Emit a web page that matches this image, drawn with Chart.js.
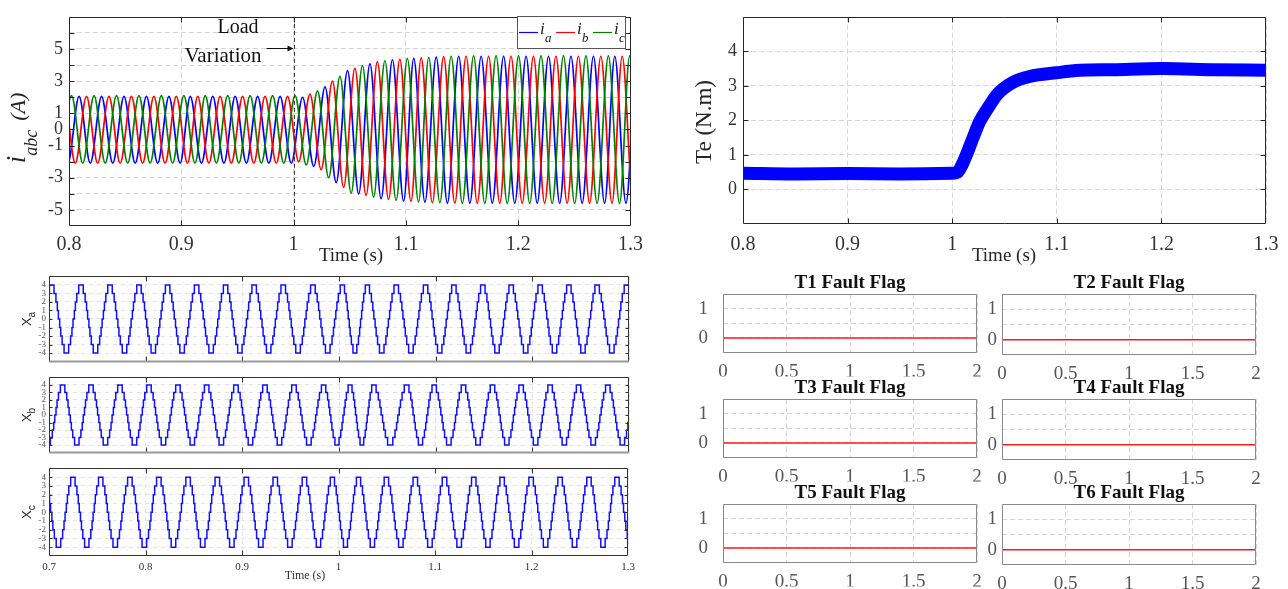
<!DOCTYPE html>
<html>
<head>
<meta charset="utf-8">
<title>Load variation - currents, torque, levels and fault flags</title>
<script src="https://cdn.jsdelivr.net/npm/chart.js@4.4.1/dist/chart.umd.min.js"></script>
<style>
  body { margin: 0; width: 1288px; height: 589px; background: #fff; position: relative; overflow: hidden; }
  canvas { position: absolute; }
</style>
</head>
<body>
<script>
// ---------- values ----------

// phase currents: time of each positive peak of i_a, the other phases follow by a third of a cycle
const iaPeakTime = [0.789, 0.809, 0.829, 0.849, 0.869, 0.889, 0.908, 0.928, 0.948, 0.968, 0.988,
  1.008, 1.028, 1.048, 1.068, 1.088, 1.107, 1.127, 1.147, 1.167, 1.187, 1.207, 1.227, 1.247, 1.267, 1.286, 1.306];
const phaseShift = [0, 0.0066, 0.0133];
const halfCycle = 0.00995;
// peak / following trough of every cycle (A)
const iaPeak = [2.05, 2.05, 2.05, 2.05, 2.05, 2.05, 2.05, 2.05, 2.05, 2.05, 2.05,
  2.0, 2.65, 3.65, 4.08, 4.33, 4.42, 4.5, 4.55, 4.55, 4.55, 4.55, 4.55, 4.55, 4.55, 4.55, 4.55];
const iaTrough = [-2.1, -2.1, -2.1, -2.1, -2.1, -2.1, -2.1, -2.1, -2.1, -2.1, -2.1,
  -2.3, -3.3, -4.0, -4.3, -4.45, -4.52, -4.58, -4.58, -4.58, -4.58, -4.58, -4.58, -4.58, -4.58, -4.58, -4.58];
const ibPeak = [2.05, 2.05, 2.05, 2.05, 2.05, 2.05, 2.05, 2.05, 2.05, 2.05, 2.05,
  2.2, 3.0, 3.8, 4.2, 4.36, 4.45, 4.52, 4.55, 4.55, 4.55, 4.55, 4.55, 4.55, 4.55, 4.55, 4.55];
const ibTrough = [-2.1, -2.1, -2.1, -2.1, -2.1, -2.1, -2.1, -2.1, -2.1, -2.1,
  -2.0, -2.5, -3.6, -4.1, -4.35, -4.47, -4.55, -4.58, -4.58, -4.58, -4.58, -4.58, -4.58, -4.58, -4.58, -4.58, -4.58];
const icPeak = [2.1, 2.1, 2.1, 2.1, 2.1, 2.1, 2.1, 2.1, 2.1, 2.1, 2.1,
  2.4, 3.3, 3.97, 4.27, 4.4, 4.47, 4.55, 4.57, 4.57, 4.57, 4.57, 4.57, 4.57, 4.57, 4.57, 4.57];
const icTrough = [-2.1, -2.1, -2.1, -2.1, -2.1, -2.1, -2.1, -2.1, -2.1, -2.1,
  -2.2, -3.0, -3.95, -4.2, -4.4, -4.5, -4.55, -4.6, -4.6, -4.6, -4.6, -4.6, -4.6, -4.6, -4.6, -4.6, -4.6];
const phaseNames = ['a', 'b', 'c'];

// electromagnetic torque (N.m)
const teTime = [0.8, 0.85, 0.9, 0.95, 1.0, 1.005, 1.01, 1.02, 1.026, 1.034, 1.043, 1.058, 1.074, 1.1, 1.122, 1.154, 1.2, 1.25, 1.3];
const teValue = [0.47, 0.45, 0.46, 0.45, 0.47, 0.5, 0.75, 1.5, 1.95, 2.35, 2.75, 3.1, 3.27, 3.38, 3.45, 3.47, 3.5, 3.47, 3.45];

// inverter level signals: one cycle of the 9-level staircase (fraction of a peak-to-peak interval, new level)
const stepFrac = [0.078, 0.144, 0.192, 0.228, 0.272, 0.308, 0.356, 0.422, 0.578, 0.644, 0.692, 0.728, 0.772, 0.808, 0.856, 0.922];
const stepLevel = [3, 2, 1, 0, -1, -2, -3, -4, -3, -2, -1, 0, 1, 2, 3, 4];
// centre of every +4 plateau (s)
const xaPeaks = [0.6728, 0.7028, 0.7331, 0.7631, 0.7931, 0.8227, 0.8527, 0.8827, 0.9122, 0.9423, 0.9730,
  1.0037, 1.0292, 1.0592, 1.0896, 1.1188, 1.1488, 1.1781, 1.2081, 1.2378, 1.2670, 1.2974, 1.3274];
const xbPeaks = [0.6841, 0.7141, 0.7434, 0.7734, 0.8034, 0.8334, 0.8631, 0.8934, 0.9234, 0.9534, 0.9842,
  1.0116, 1.0357, 1.0702, 1.0984, 1.1288, 1.1588, 1.1884, 1.2184, 1.2478, 1.2781, 1.3081];
const xcPeaks = [0.6948, 0.7248, 0.7535, 0.7838, 0.8138, 0.8441, 0.8744, 0.9044, 0.9344, 0.9647,
  0.9937, 1.0206, 1.0495, 1.0795, 1.1098, 1.1401, 1.1694, 1.1995, 1.2295, 1.2595, 1.2884, 1.3184];
const levelNames = ['a', 'b', 'c'];

// switch fault flags (all stay at 0)
const flagTime = [0, 2];
const flagValues = [[0, 0], [0, 0], [0, 0], [0, 0], [0, 0], [0, 0]];
const flagTitles = ['T1 Fault Flag', 'T2 Fault Flag', 'T3 Fault Flag', 'T4 Fault Flag', 'T5 Fault Flag', 'T6 Fault Flag'];

// ---------- helpers ----------
const SERIF = "'Liberation Serif', 'Times New Roman', serif";
Chart.defaults.font.family = SERIF;
Chart.defaults.color = '#333';

function wave(shift, peaks, troughs) {
  const pts = [{ x: iaPeakTime[0] + shift - halfCycle, y: troughs[0] }];
  iaPeakTime.forEach((t, k) => {
    pts.push({ x: t + shift, y: peaks[k] });
    pts.push({ x: t + shift + halfCycle, y: troughs[k] });
  });
  return pts;
}

function staircase(peaks) {
  const pts = [{ x: peaks[0], y: 4 }];
  for (let i = 0; i + 1 < peaks.length; i++) {
    const d = peaks[i + 1] - peaks[i];
    stepFrac.forEach((f, j) => pts.push({ x: peaks[i] + f * d, y: stepLevel[j] }));
  }
  return pts;
}

const num = v => String(+v.toFixed(3));

function axis(min, max, step, o) {
  return {
    min, max,
    ticks: {
      stepSize: step, autoSkip: false, maxRotation: 0, minRotation: 0,
      padding: o.pad, color: o.color || '#333', font: { size: o.size },
      display: o.show !== false, callback: o.cb || num
    },
    grid: { color: o.grid || '#d6d6d6', drawTicks: false, lineWidth: 1 },
    border: { display: false, dash: o.dash || [5, 3] }
  };
}

function drawFrame(chart, o) {
  const { ctx, chartArea: a, scales: { x, y } } = chart;
  const L = Math.round(a.left) + 0.5, R = Math.round(a.right) - 0.5;
  const T = Math.round(a.top) + 0.5, B = Math.round(a.bottom) - 0.5;
  ctx.save();
  ctx.lineWidth = 1;
  ctx.strokeStyle = o.color;
  ctx.beginPath();
  if (o.xTick) {
    x.ticks.forEach(t => {
      const p = Math.round(x.getPixelForValue(t.value)) + 0.5;
      if (p < L + 2 || p > R - 2) return;
      ctx.moveTo(p, B); ctx.lineTo(p, B - o.xTick);
      ctx.moveTo(p, T); ctx.lineTo(p, T + o.xTick);
    });
  }
  if (o.yTick) {
    y.ticks.forEach(t => {
      const p = Math.round(y.getPixelForValue(t.value)) + 0.5;
      if (p < T + 2 || p > B - 2) return;
      ctx.moveTo(L, p); ctx.lineTo(L + o.yTick, p);
      ctx.moveTo(R, p); ctx.lineTo(R - o.yTick, p);
    });
  }
  ctx.moveTo(L, B); ctx.lineTo(L, T); ctx.lineTo(R, T); ctx.lineTo(R, B);
  if (!o.bottomColor) ctx.lineTo(L, B);
  ctx.stroke();
  if (o.bottomColor) {
    ctx.beginPath();
    ctx.strokeStyle = o.bottomColor; ctx.lineWidth = 2;
    ctx.moveTo(L - 0.5, B); ctx.lineTo(R + 0.5, B);
    ctx.stroke();
  }
  ctx.restore();
}

// rotated label made of pieces (text, font, baseline offset to the right of the page)
function vLabel(ctx, cx, cy, baseX, parts) {
  ctx.save();
  ctx.translate(0, cy);
  ctx.rotate(-Math.PI / 2);
  let total = 0;
  parts.forEach(p => { ctx.font = p.font; p.w = ctx.measureText(p.t).width; total += p.w + (p.gap || 0); });
  let pos = -total / 2;
  ctx.fillStyle = '#262626';
  ctx.textBaseline = 'alphabetic';
  ctx.textAlign = 'left';
  parts.forEach(p => {
    ctx.font = p.font;
    ctx.fillText(p.t, pos, baseX + (p.dy || 0));
    pos += p.w + (p.gap || 0);
  });
  ctx.restore();
}

function text(ctx, s, x, y, font, color, align) {
  ctx.save();
  ctx.font = font;
  ctx.fillStyle = color || '#262626';
  ctx.textAlign = align || 'center';
  ctx.textBaseline = 'middle';
  ctx.fillText(s, x, y);
  ctx.restore();
}

function panel(box, pad, cfg) {
  const w = box.r - box.l + pad.l + pad.r, h = box.b - box.t + pad.t + pad.b;
  const cv = document.createElement('canvas');
  cv.width = w; cv.height = h;
  Object.assign(cv.style, { left: (box.l - pad.l) + 'px', top: (box.t - pad.t) + 'px', width: w + 'px', height: h + 'px' });
  document.body.appendChild(cv);
  return new Chart(cv, {
    type: 'line',
    data: { datasets: cfg.datasets },
    options: {
      responsive: false,
      animation: false,
      events: [],
      parsing: false,
      layout: { autoPadding: false, padding: { left: 0, top: pad.t, right: pad.r, bottom: 0 } },
      plugins: { legend: { display: false }, tooltip: { enabled: false } },
      elements: { point: { radius: 0 } },
      scales: {
        x: Object.assign({ type: 'linear', afterFit: s => { s.height = pad.b; } }, cfg.x),
        y: Object.assign({ type: 'linear', afterFit: s => { s.width = pad.l; } }, cfg.y)
      }
    },
    plugins: [{
      id: 'deco',
      afterDatasetsDraw: ch => { drawFrame(ch, cfg.frame); if (cfg.draw) cfg.draw(ch, ch.ctx); }
    }]
  });
}

// ---------- 1. phase currents ----------
const iColors = ['#0000ff', '#ff0000', '#008000'];
const iSeries = [wave(phaseShift[0], iaPeak, iaTrough), wave(phaseShift[1], ibPeak, ibTrough), wave(phaseShift[2], icPeak, icTrough)];
const iLabeled = [5, 3, 1, 0, -1, -3, -5];

panel({ l: 69, t: 11, r: 633, b: 226 }, { l: 69, t: 11, r: 17, b: 44 }, {
  datasets: iSeries.map((d, i) => ({
    label: 'i_' + phaseNames[i], data: d, borderColor: iColors[i], borderWidth: 1.7,
    cubicInterpolationMode: 'monotone', clip: 0, order: 2 - i
  })),
  x: axis(0.8, 1.3, 0.1, { pad: 7, size: 20 }),
  y: axis(-6, 7, 1, {
    pad: 6, size: 18,
    cb: v => (v === 7 || v === -6) ? null : (iLabeled.includes(v) ? String(v) : '')
  }),
  frame: { color: '#262626', xTick: 5, yTick: 5 },
  draw: (ch, ctx) => {
    const { x, y, } = ch.scales, a = ch.chartArea;
    const px = Math.round(x.getPixelForValue(1.0)) + 0.5;
    ctx.save();
    // load step marker
    ctx.strokeStyle = '#333'; ctx.lineWidth = 1; ctx.setLineDash([4, 3]);
    ctx.beginPath(); ctx.moveTo(px, a.top); ctx.lineTo(px, a.bottom); ctx.stroke();
    ctx.setLineDash([]);
    const ay = Math.round(y.getPixelForValue(5)) - 0.5;
    ctx.strokeStyle = '#111';
    ctx.beginPath(); ctx.moveTo(px - 28, ay); ctx.lineTo(px - 2, ay); ctx.stroke();
    ctx.fillStyle = '#111';
    ctx.beginPath(); ctx.moveTo(px - 1, ay); ctx.lineTo(px - 7, ay - 3); ctx.lineTo(px - 7, ay + 3); ctx.closePath(); ctx.fill();
    ctx.restore();
    text(ctx, 'Load', 238, 28, '20px ' + SERIF, '#111');
    text(ctx, 'Variation', 223, 56, '21px ' + SERIF, '#111');
    // legend
    ctx.save();
    ctx.fillStyle = '#fff'; ctx.fillRect(517, 16, 109, 33);
    ctx.strokeStyle = '#555'; ctx.lineWidth = 1; ctx.strokeRect(517.5, 16.5, 108, 32);
    [519, 556, 593].forEach((x0, i) => {
      ctx.strokeStyle = iColors[i]; ctx.lineWidth = 1.2;
      ctx.beginPath(); ctx.moveTo(x0, 32.5); ctx.lineTo(x0 + 19, 32.5); ctx.stroke();
      ctx.fillStyle = '#222';
      ctx.font = 'italic 17px ' + SERIF; ctx.fillText('i', x0 + 21, 34);
      ctx.font = 'italic 13px ' + SERIF; ctx.fillText(phaseNames[i], x0 + 26, 42);
    });
    ctx.restore();
    // axis titles
    vLabel(ctx, 0, 128, 25, [
      { t: 'i', font: 'italic 27px ' + SERIF },
      { t: 'abc', font: 'italic 18px ' + SERIF, dy: 12, gap: 9 },
      { t: '(A)', font: 'italic 22px ' + SERIF }
    ]);
    text(ctx, 'Time (s)', 351, 256, '19px ' + SERIF, '#262626');
  }
});

// ---------- 2. torque ----------
panel({ l: 743, t: 13, r: 1266, b: 224 }, { l: 63, t: 13, r: 22, b: 46 }, {
  datasets: [{
    label: 'Te', data: teTime.map((t, i) => ({ x: t, y: teValue[i] })),
    borderColor: '#0000ff', borderWidth: 13, cubicInterpolationMode: 'monotone', clip: 0, borderCapStyle: 'butt'
  }],
  x: axis(0.8, 1.3, 0.1, { pad: 9, size: 20 }),
  y: axis(-1, 5, 1, { pad: 6, size: 18, cb: v => (v === -1 || v === 5) ? null : String(v) }),
  frame: { color: '#262626', xTick: 5, yTick: 5 },
  draw: (ch, ctx) => {
    vLabel(ctx, 0, 122, 31, [{ t: 'Te (N.m)', font: '23px ' + SERIF }]);
    text(ctx, 'Time (s)', 324, 256, '19px ' + SERIF, '#262626');
  }
});

// ---------- 3. level signals ----------
const levelPeaks = [xaPeaks, xbPeaks, xcPeaks];
const levelBoxes = [{ l: 49, t: 275, r: 629, b: 367 }, { l: 49, t: 372, r: 629, b: 458 }, { l: 49, t: 463, r: 629, b: 556 }];
const levelPads = [{ l: 49, t: 7, r: 11, b: 3 }, { l: 49, t: 3, r: 11, b: 3 }, { l: 49, t: 3, r: 11, b: 33 }];
levelPeaks.forEach((pk, i) => {
  const last = i === 2;
  panel(levelBoxes[i], levelPads[i], {
    datasets: [{ label: 'X_' + levelNames[i], data: staircase(pk), borderColor: '#1010ff', borderWidth: 1.5, stepped: true, clip: 0 }],
    x: axis(0.7, 1.3, 0.1, { pad: 5, size: 11, show: last, grid: '#e2e2e2', dash: [4, 4] }),
    y: axis(-5, 5, 1, { pad: 3, size: 9, color: '#555', grid: '#e2e2e2', dash: [4, 4], cb: v => (v === -5 || v === 5) ? null : String(v) }),
    frame: { color: '#333', xTick: 5, yTick: 3, bottomColor: last ? null : '#9a9a9a' },
    draw: (ch, ctx) => {
      const a = ch.chartArea;
      vLabel(ctx, 0, (a.top + a.bottom) / 2, 31, [
        { t: 'X', font: "13px 'Liberation Sans', Arial, sans-serif" },
        { t: levelNames[i], font: "10px 'Liberation Sans', Arial, sans-serif", dy: 4 }
      ]);
      if (last) text(ctx, 'Time (s)', 305, 116, '12px ' + SERIF, '#333');
    }
  });
});

// ---------- 4. fault flags ----------
flagValues.forEach((vals, k) => {
  const col = k % 2, row = Math.floor(k / 2);
  const top = 294 + row * 105;
  const box = col === 0 ? { l: 723, t: top, r: 977, b: top + 61 } : { l: 1002, t: top, r: 1256, b: top + 61 };
  const pad = col === 0 ? { l: 43, t: 28, r: 13, b: 24 } : { l: 24, t: 28, r: 32, b: 24 };
  panel(box, pad, {
    datasets: [{ label: flagTitles[k], data: flagTime.map((t, i) => ({ x: t, y: vals[i] })), borderColor: '#ff1a1a', borderWidth: 1.6, clip: 0 }],
    x: axis(0, 2, 0.5, { pad: 8, size: 19, color: '#555' }),
    y: axis(-0.5, 1.5, 0.5, {
      pad: col === 0 ? 15 : 5, size: 19, color: '#555',
      cb: v => (v === -0.5 || v === 1.5) ? null : (v === 0 || v === 1 ? String(v) : '')
    }),
    frame: { color: '#8a8a8a' },
    draw: (ch, ctx) => {
      const a = ch.chartArea;
      text(ctx, flagTitles[k], (a.left + a.right) / 2, a.top - 11, 'bold 19px ' + SERIF, '#111');
    }
  });
});
</script>
</body>
</html>
